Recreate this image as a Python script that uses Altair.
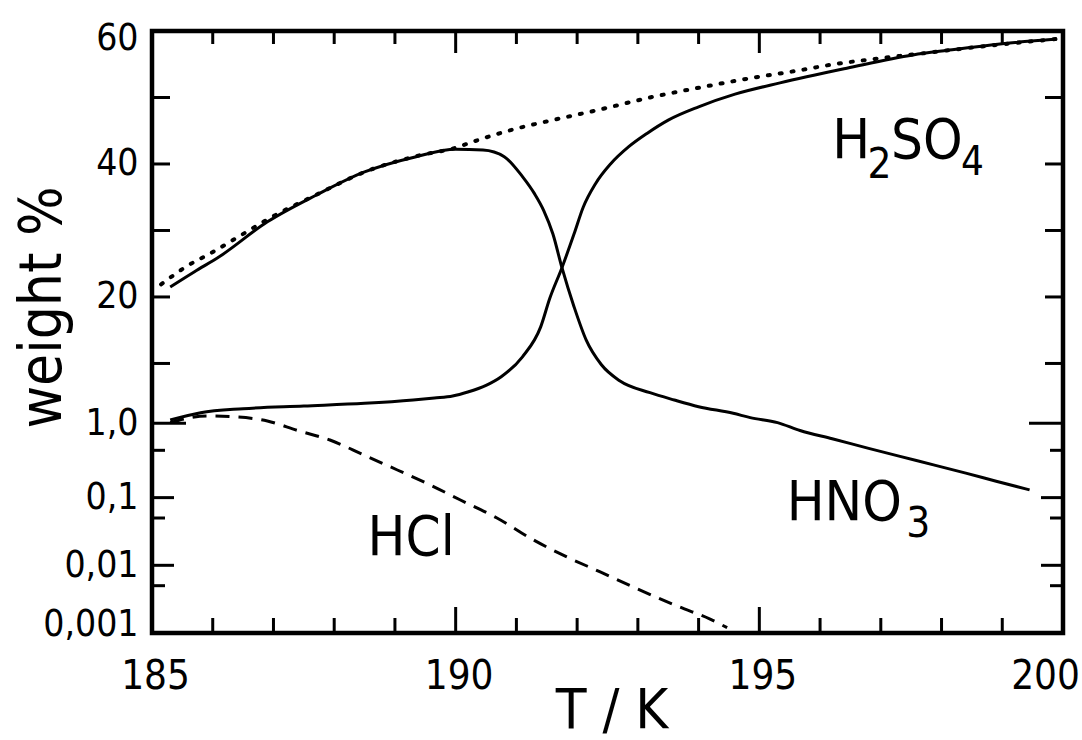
import math
import altair as alt
import pandas as pd

# ---------------- data ----------------
# HNO3 weight % (solid curve: rises to ~42 %, falls steeply near 191.7 K)
T_HNO3 = [185.3, 185.7, 186.1, 186.9, 187.7, 188.5, 189.35, 190.0, 190.45, 190.8,
          191.1, 191.3, 191.45, 191.6, 191.75, 191.95, 192.15, 192.4, 192.7, 193.2,
          193.6, 194.0, 194.57, 194.85, 195.3, 195.67, 196.2, 196.8, 197.3, 197.9,
          198.4, 198.9, 199.45]
W_HNO3 = [21.5, 23.8, 26.0, 31.3, 35.3, 38.8, 41.1, 42.2, 42.1, 41.1,
          38.1, 35.5, 33.0, 29.5, 24.4, 18.5, 13.5, 9.8, 7.4, 5.6,
          4.5, 3.5, 2.5, 1.85, 1.1, 0.98, 0.74, 0.535, 0.41, 0.30,
          0.23, 0.175, 0.13]

# H2SO4 weight % (solid curve: low at cold temperatures, rising to ~59 %)
T_H2SO4 = [185.3, 185.8, 186.5, 187.5, 188.5, 189.3, 189.65, 189.95, 190.2, 190.5,
           190.75, 191.1, 191.4, 191.55, 191.75, 191.95, 192.1, 192.3, 192.55, 192.85,
           193.15, 193.5, 194.0, 194.6, 195.34, 196.44, 197.53, 198.1, 199.0, 199.9]
W_H2SO4 = [1.5, 2.6, 3.2, 3.6, 4.0, 4.5, 4.8, 5.1, 5.7, 6.7,
           8.0, 11.0, 15.5, 19.8, 24.4, 29.5, 33.5, 37.0, 40.0, 42.6,
           44.6, 46.6, 48.6, 50.5, 52.2, 54.4, 56.4, 57.1, 58.1, 58.8]

# dotted curve (binary H2SO4 / H2O)
T_DOT = [185.15, 185.57, 186.01, 186.45, 186.89, 187.71, 188.53, 189.36, 190.02, 190.24,
         190.95, 191.5, 192.38, 193.2, 194.02, 194.85, 195.67, 196.16, 196.99, 197.65,
         198.3, 199.1, 199.9]
W_DOT = [21.9, 24.6, 26.8, 29.2, 31.6, 35.4, 38.9, 41.2, 42.5, 43.2,
         45.2, 46.4, 48.2, 50.0, 51.5, 52.9, 54.1, 54.9, 55.9, 56.6,
         57.3, 58.1, 58.8]

# HCl weight % (dashed curve)
T_HCL = [185.3, 185.9, 186.3, 186.9, 187.4, 187.93, 188.48, 189.04, 189.58, 190.07,
         190.68, 191.27, 191.83, 192.38, 192.92, 193.65, 194.19, 194.47]
W_HCL = [1.1, 2.1, 2.0, 1.35, 0.98, 0.71, 0.43, 0.256, 0.154, 0.093,
         0.050, 0.024, 0.0133, 0.0080, 0.0048, 0.0025, 0.0016, 0.0012]

# axis ticks and labels
X_LABEL_VALUES = [185, 190, 195, 200]
X_MINOR_TICKS = [186, 187, 188, 189, 191, 192, 193, 194, 196, 197, 198, 199]
X_MAJOR_TICKS = [190, 195]
Y_LABEL_VALUES = [60, 40, 20, 1.0, 0.1, 0.01, 0.001]
Y_LABELS = ["60", "40", "20", "1,0", "0,1", "0,01", "0,001"]
Y_TICKS_LINEAR = [50, 40, 30, 20, 10]
Y_TICKS_ONE = [1.0]
Y_TICKS_DECADE = [0.1, 0.01]
Y_TICKS_LOG_MINOR = [0.5, 0.05, 0.005]

# curve labels (text pieces, anchored at left/baseline, in data units)
ANN_TEXT = ["H", "2", "SO", "4", "HNO", "3", "HCl"]
ANN_T = [196.2, 196.78, 197.17, 198.32, 195.45, 197.42, 188.55]
ANN_W = [40.9, 37.9, 40.9, 38.3, 0.047, 0.0262, 0.0141]
ANN_SIZE = [56, 42, 56, 40, 56, 42, 56]

# ---------------- y scale: linear above 1 %, logarithmic below ----------------
LOG_DECADE = 10.18


def to_u(v):
    return v if v >= 1 else LOG_DECADE * math.log10(v)


U_EXPR = f"datum.w < 1 ? {LOG_DECADE} * log(datum.w) / LN10 : datum.w"

W, H = 911, 602
FONT = "DejaVu Sans Condensed, DejaVu Sans, sans-serif"

xscale = alt.Scale(domain=[185, 200], nice=False, zero=False)
yscale = alt.Scale(domain=[to_u(0.001), 60], nice=False, zero=False)

label_expr = " : ".join(
    f"abs(datum.value - ({to_u(v):.5f})) < 0.01 ? '{lab}'" for v, lab in zip(Y_LABEL_VALUES, Y_LABELS)
) + " : ''"

x_axis = alt.Axis(
    values=X_LABEL_VALUES, ticks=False, tickSize=0, domain=False, grid=False,
    labelFont=FONT, labelFontSize=40, labelColor="black",
    labelBaseline="alphabetic", labelPadding=55, labelFlush=False,
    labelOffset={"condition": {"test": "datum.value == 200", "value": -18}, "value": 3},
    title="T / K", titleFont=FONT, titleFontSize=56, titleFontWeight="normal",
    titleColor="black", titleBaseline="alphabetic", titleY=94, titleX=W / 2 + 4,
    titleAlign="center",
)
y_axis = alt.Axis(
    values=[to_u(v) for v in Y_LABEL_VALUES], labelExpr=label_expr,
    ticks=False, tickSize=0, domain=False, grid=False,
    labelFont=FONT, labelFontSize=37, labelColor="black", labelPadding=14,
    labelFlush=False, labelBaseline="middle",
    labelOffset={"condition": [{"test": "datum.value > 59", "value": 7},
                               {"test": "datum.value < -30", "value": -9}], "value": 0},
    title="weight %", titleFont=FONT, titleFontSize=58, titleFontWeight="normal",
    titleColor="black", titleAngle=270, titleBaseline="alphabetic",
    titleAlign="center", titleX=-92, titleY=276,
)

X = alt.X("T:Q", scale=xscale, axis=x_axis)
Y = alt.Y("u:Q", scale=yscale, axis=y_axis)


def curve(T, w, **style):
    df = pd.DataFrame({"T": T, "w": w})
    return (alt.Chart(df).transform_calculate(u=U_EXPR)
            .mark_line(color="black", interpolate="monotone", **style)
            .encode(x=X, y=Y))


def y_ticks(values, length):
    df = pd.DataFrame({"w": values})
    base = alt.Chart(df).transform_calculate(u=U_EXPR).mark_rule(color="black", strokeWidth=3)
    left = base.encode(y=Y, x=alt.value(0), x2=alt.value(length))
    right = base.encode(y=Y, x=alt.value(W), x2=alt.value(W - length))
    return [left, right]


def x_ticks(values, top_len, bottom_len):
    df = pd.DataFrame({"T": values})
    base = alt.Chart(df).mark_rule(color="black", strokeWidth=3)
    top = base.encode(x=X, y=alt.value(0), y2=alt.value(top_len))
    bottom = base.encode(x=X, y=alt.value(H), y2=alt.value(H - bottom_len))
    return [top, bottom]


layers = [
    curve(T_DOT, W_DOT, strokeWidth=4, strokeDash=[2, 10], strokeCap="round"),
    curve(T_HNO3, W_HNO3, strokeWidth=3),
    curve(T_H2SO4, W_H2SO4, strokeWidth=3),
    curve(T_HCL, W_HCL, strokeWidth=3, strokeDash=[14, 9]),
]
layers += y_ticks(Y_TICKS_LINEAR, 18)
layers += y_ticks(Y_TICKS_ONE, 34)
layers += y_ticks(Y_TICKS_DECADE, 22)
layers += y_ticks(Y_TICKS_LOG_MINOR, 13)
layers += x_ticks(X_MINOR_TICKS, 13, 15)
layers += x_ticks(X_MAJOR_TICKS, 22, 26)

ann = pd.DataFrame({"text": ANN_TEXT, "T": ANN_T, "w": ANN_W, "size": ANN_SIZE})
layers.append(
    alt.Chart(ann).transform_calculate(u=U_EXPR)
    .mark_text(align="left", baseline="alphabetic", font=FONT, color="black")
    .encode(x=X, y=Y, text="text:N", size=alt.Size("size:Q", scale=None, legend=None))
)

chart = (
    alt.layer(*layers)
    .properties(width=W, height=H, background="white",
                padding={"left": 152, "top": 31, "right": 19, "bottom": 107},
                autosize=alt.AutoSizeParams(type="none"))
    .configure_view(stroke="black", strokeWidth=4.5)
)

chart.save("out.html", embed_options={"renderer": "svg", "actions": False})
